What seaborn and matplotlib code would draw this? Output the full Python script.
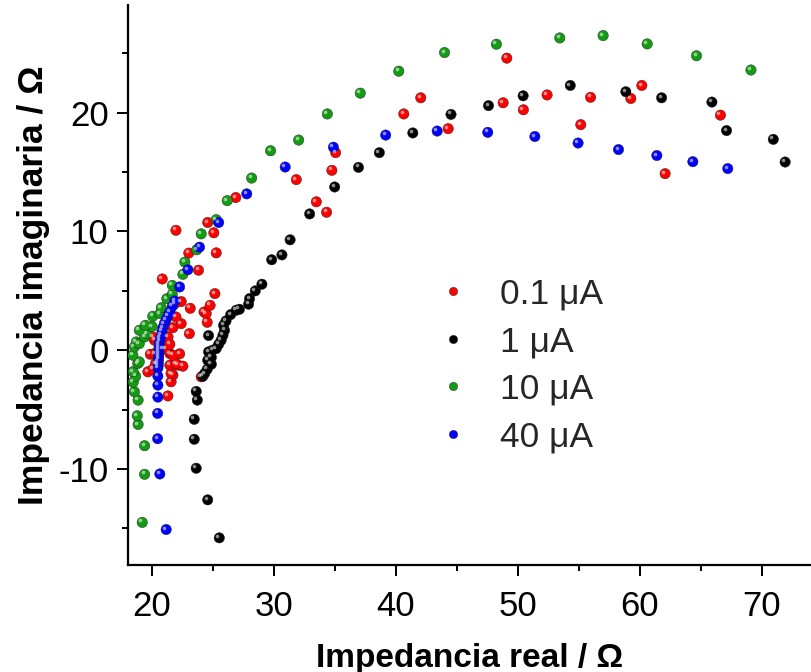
import numpy as np
import pandas as pd
import matplotlib
matplotlib.use("Agg")
import matplotlib.pyplot as plt
import matplotlib.transforms as mtransforms
from matplotlib.lines import Line2D
import seaborn as sns

# ---- data ----
labels = ["0.1 \u03bcA", "1 \u03bcA", "10 \u03bcA", "40 \u03bcA"]
colors = ["#ff0000", "#000000", "#149b14", "#0000ff"]

x_01 = [21.34, 21.6, 21.75, 21.6, 24.07, 19.7, 20.1, 20.33, 21.5, 22.16, 22.57, 22.0, 19.9, 20.25,
        21.5, 22.3, 21.75, 20.93, 21.2, 21.5, 20.25, 21.35, 20.1, 21.75, 23.1, 22.43, 22.0, 24.56,
        24.3, 24.48, 23.17, 24.8, 22.43, 21.9, 25.19, 20.88, 23.85, 23.05, 25.3, 22.0, 25.1, 24.6,
        26.9, 31.86, 33.5, 34.34, 34.77, 35.08, 40.66, 42.05, 44.3, 48.8, 49.1, 50.46, 52.4, 55.16,
        55.96, 59.26, 60.16, 62.07, 66.6]
y_01 = [-3.85, -2.66, -2.1, -1.96, -2.24, -1.82, -1.6, -1.12, -1.26, -1.26, -1.34, -1.12, -0.34, -0.28,
        -0.28, -0.3, -0.42, 0.14, 0.14, 0.5, 0.84, 1.12, 1.12, 1.9, 1.4, 2.24, 2.8, 2.35,
        3.22, 3.08, 3.53, 3.78, 4.1, 3.92, 4.77, 6.0, 6.74, 8.18, 8.2, 10.1, 9.89, 10.76,
        12.86, 14.37, 12.5, 11.62, 15.15, 16.64, 19.9, 21.26, 18.66, 20.84, 24.6, 20.25, 21.5, 19.0,
        21.3, 21.2, 22.3, 14.87, 19.8]

x_1 = [25.55, 24.6, 23.66, 23.5, 23.5, 23.75, 23.66, 24.2, 24.35, 24.56, 24.9, 24.6, 24.9, 24.67,
       25.0, 25.3, 25.5, 25.7, 25.85, 24.67, 25.98, 25.9, 26.1, 26.48, 26.94, 27.2, 27.95, 28.03,
       28.5, 29.04, 29.84, 30.68, 31.35, 32.95, 35.0, 36.95, 38.66, 41.4, 44.53, 47.6, 50.44, 54.3,
       58.85, 61.78, 65.9, 67.1, 70.93, 71.9]
y_1 = [-15.8, -12.6, -9.94, -7.5, -5.82, -4.2, -3.47, -2.2, -1.96, -1.6, -1.18, -0.84, -0.6, -0.14,
       0.0, 0.14, 0.5, 0.84, 1.26, 1.24, 1.68, 2.1, 2.47, 3.0, 3.37, 3.45, 3.88, 4.35,
       5.0, 5.56, 7.62, 8.03, 9.3, 11.48, 13.75, 15.4, 16.64, 18.3, 19.86, 20.6, 21.43, 22.3,
       21.77, 21.26, 20.9, 18.5, 17.76, 15.85]

x_10 = [19.24, 19.43, 19.43, 18.9, 18.83, 18.9, 18.6, 18.5, 18.7, 18.5, 18.87, 19.0, 18.47, 18.6,
        18.75, 19.0, 19.43, 19.6, 19.0, 20.05, 19.5, 20.1, 20.7, 20.8, 21.25, 21.7, 21.7, 22.57,
        22.73, 23.7, 24.07, 25.3, 26.2, 28.2, 29.75, 32.05, 34.4, 37.1, 40.25, 44.0, 48.25, 53.44,
        56.99, 60.6, 64.64, 69.1]
y_10 = [-14.5, -10.45, -8.04, -6.25, -5.52, -4.2, -3.5, -2.7, -2.2, -1.8, -1.12, -0.98, -0.42, 0.28,
        0.7, 0.56, 1.12, 1.4, 1.68, 2.0, 2.1, 2.86, 3.08, 3.58, 4.34, 4.71, 5.46, 6.39,
        7.42, 8.46, 9.8, 11.0, 12.6, 14.5, 16.8, 17.7, 19.9, 21.65, 23.5, 25.07, 25.77, 26.3,
        26.5, 25.8, 24.8, 23.6]

x_40 = [21.2, 20.68, 20.5, 20.5, 20.52, 20.52, 20.52, 20.52, 20.55, 20.55, 20.57, 20.58, 20.6, 20.6,
        20.62, 20.64, 20.66, 20.72, 20.8, 20.86, 20.93, 21.05, 21.2, 21.35, 21.5, 21.7, 21.9, 22.3,
        22.98, 23.93, 25.5, 27.8, 30.95, 34.9, 39.18, 43.4, 47.54, 51.4, 54.94, 58.25, 61.39, 64.34,
        67.2]
y_40 = [-15.1, -10.42, -7.45, -5.32, -3.95, -2.94, -2.18, -1.5, -1.25, -1.0, -0.75, -0.5, -0.25, 0.0,
        0.25, 0.5, 0.75, 1.0, 1.26, 1.6, 1.91, 2.25, 2.58, 2.9, 3.22, 3.7, 4.15, 5.33,
        6.78, 8.68, 10.76, 13.17, 15.43, 17.1, 18.12, 18.46, 18.35, 18.0, 17.45, 16.9, 16.4, 15.88,
        15.3]

xs = [x_01, x_1, x_10, x_40]
ys = [y_01, y_1, y_10, y_40]

df = pd.concat(
    [pd.DataFrame({"real": xv, "imag": yv, "corriente": lab}) for xv, yv, lab in zip(xs, ys, labels)],
    ignore_index=True)
palette = dict(zip(labels, colors))

# ---- figure ----
sns.set_theme(style="white")
plt.rcParams["font.family"] = ["Liberation Sans", "DejaVu Sans"]
plt.rcParams["axes.unicode_minus"] = False

fig = plt.figure(figsize=(8.12, 6.72), dpi=100)
ax = fig.add_axes([0.1576, 0.159, 0.8424, 0.834])

sns.scatterplot(data=df, x="real", y="imag", hue="corriente", palette=palette,
                s=56, edgecolor="#202020", linewidth=0.3, legend=False, ax=ax, zorder=3)
# sphere-like highlight
hl = mtransforms.offset_copy(ax.transData, fig=fig, x=-1.4, y=1.4, units="points")
ax.scatter(df["real"], df["imag"], s=7, color="white", alpha=0.55, linewidths=0,
           transform=hl, zorder=4)

ax.set_xlim(18.07, 74.1)
ax.set_ylim(-18.1, 29.1)
ax.set_xticks([20, 30, 40, 50, 60, 70])
ax.set_xticks([25, 35, 45, 55, 65], minor=True)
ax.set_yticks([-10, 0, 10, 20])
ax.set_yticks([-15, -5, 5, 15, 25], minor=True)

for side in ["top", "right"]:
    ax.spines[side].set_visible(False)
for side in ["left", "bottom"]:
    ax.spines[side].set_color("black")
    ax.spines[side].set_linewidth(1.6)

ax.tick_params(axis="both", which="major", direction="out", length=8, width=1.4,
               color="black", bottom=True, left=True)
ax.tick_params(axis="both", which="minor", direction="out", length=4.5, width=1.4,
               color="black", bottom=True, left=True)
ax.tick_params(axis="x", which="major", labelsize=25, pad=10)
ax.tick_params(axis="y", which="major", labelsize=25, pad=6)
for t in ax.get_xticklabels() + ax.get_yticklabels():
    t.set_color("black")

ax.set_xlabel("Impedancia real / \u03a9", fontsize=24, fontweight="bold", color="black", labelpad=14)
ax.set_ylabel("Impedancia imaginaria / \u03a9", fontsize=25.5, fontweight="bold", color="black", labelpad=6)

handles = [Line2D([], [], marker="o", linestyle="none", markersize=6, markerfacecolor=c,
                  markeredgecolor="#202020", markeredgewidth=0.3) for c in colors]
leg = ax.legend(handles, labels, loc="upper left", bbox_to_anchor=(0.428, 0.538), frameon=False,
                fontsize=25.5, handletextpad=0.83, labelspacing=0.41, handlelength=1.0,
                borderaxespad=0)

fig.savefig("out.png", dpi=100)
